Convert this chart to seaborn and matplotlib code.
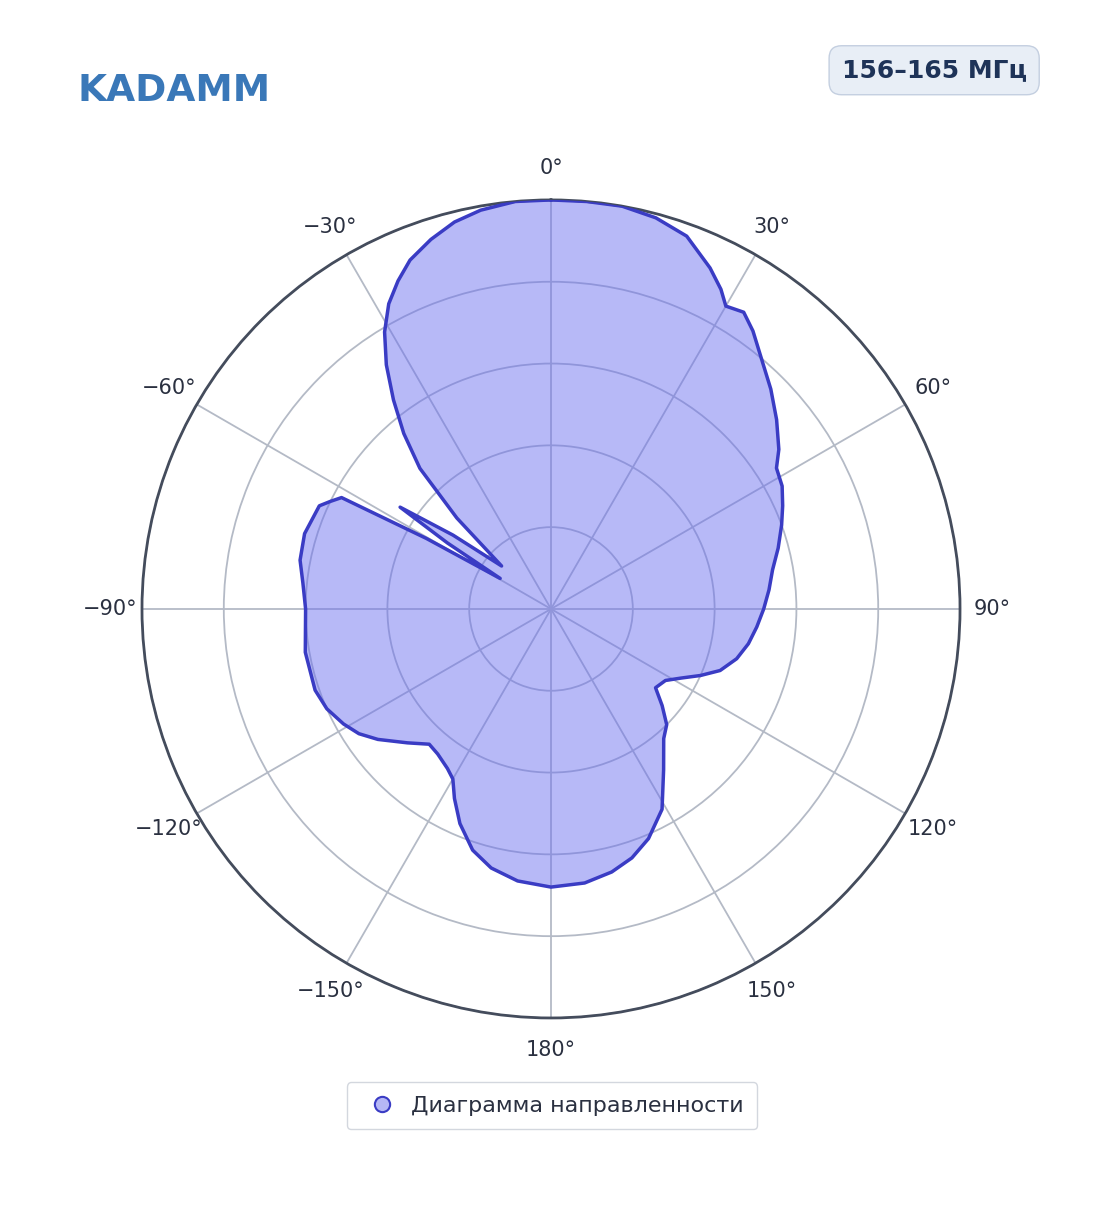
import numpy as np
import matplotlib.pyplot as plt
import seaborn as sns

sns.set_theme(style="white")
plt.rcParams['font.family'] = ['DejaVu Sans']

# angle (deg, clockwise from north) and normalized gain
angles = [0, 5, 10, 15, 20, 25, 28, 30, 33, 36, 40, 45, 50, 55, 58, 62, 66, 70, 75, 80,
          85, 90, 95, 100, 105, 110, 114, 118, 122, 127, 131, 135, 139, 145, 151, 157,
          162, 167, 173, 180, 187, 193, 198, 203, 207, 210, 213, 218, 222, 227, 233, 237,
          241, 246, 251, 260, 270, 276, 281, 287, 294, 296, 298, 299.5, 301, 302.5, 304,
          307, 311, 314, 317, 320, 323, 326, 329, 332, 335, 338, 342, 346, 350, 355, 360]
gain = [1.0, 1.0, 1.0, 0.99, 0.97, 0.92, 0.885, 0.855, 0.865, 0.84, 0.80, 0.76, 0.72,
        0.68, 0.65, 0.64, 0.62, 0.60, 0.575, 0.55, 0.535, 0.52, 0.505, 0.49, 0.47, 0.44,
        0.40, 0.36, 0.33, 0.32, 0.36, 0.40, 0.42, 0.48, 0.56, 0.61, 0.64, 0.66, 0.675,
        0.68, 0.67, 0.65, 0.62, 0.57, 0.52, 0.48, 0.465, 0.45, 0.445, 0.48, 0.53, 0.56,
        0.58, 0.60, 0.61, 0.61, 0.60, 0.61, 0.625, 0.63, 0.62, 0.60, 0.58, 0.35, 0.145,
        0.30, 0.445, 0.30, 0.16, 0.32, 0.47, 0.56, 0.64, 0.72, 0.79, 0.845, 0.885, 0.92,
        0.95, 0.975, 0.99, 1.0, 1.0]
series_name = "Диаграмма направленности"
band_label = "156–165 МГц"
tick_deg = list(range(0, 360, 30))
tick_labels = ["0°", "30°", "60°", "90°", "120°", "150°", "180°",
               "−150°", "−120°", "−90°", "−60°", "−30°"]

fig = plt.figure(figsize=(11.04, 12.11), dpi=100)
ax = fig.add_axes([0.1286, 0.1594, 0.741, 0.6755], projection='polar')
ax.set_theta_zero_location('N')
ax.set_theta_direction(-1)

th = np.deg2rad(angles)
ax.fill(th, gain, color='#6a6ef0', alpha=0.48, lw=0, zorder=2)
ax.plot(th, gain, color='#3a3cc4', lw=2.5, zorder=3)
ax.plot([], [], 'o', ms=11, mfc='#b5b7f5', mec='#3a3cc4', mew=1.5, label=series_name)

ax.set_ylim(0, 1)
ax.set_yticks([0.2, 0.4, 0.6, 0.8, 1.0])
ax.set_yticklabels([])
ax.set_xticks(np.deg2rad(tick_deg))
ax.set_xticklabels(tick_labels, fontsize=15, color='#2a3040')
ax.tick_params(axis='x', pad=10)
ax.set_axisbelow(True)
ax.grid(True, color='#b4bac6', lw=1.3)
ax.spines['polar'].set_color('#444c5c')
ax.spines['polar'].set_linewidth(2)
ax.set_facecolor('white')

fig.legend(loc='center', bbox_to_anchor=(0.5, 0.087), fontsize=16, frameon=True,
           edgecolor='#c8cdd6', handletextpad=0.3, borderpad=0.6, labelcolor='#2a3040')

fig.text(0.93, 0.942, band_label, ha='right', va='center', fontsize=18, fontweight='bold',
         color='#1e3358', bbox=dict(boxstyle='round,pad=0.5', fc='#e8eef6', ec='#c4cfe0'))
fig.text(0.07, 0.925, "KADAMM", ha='left', va='center', fontsize=27, fontweight='bold',
         color='#3a78b8')

fig.savefig('out.png', dpi=100, facecolor='white')
